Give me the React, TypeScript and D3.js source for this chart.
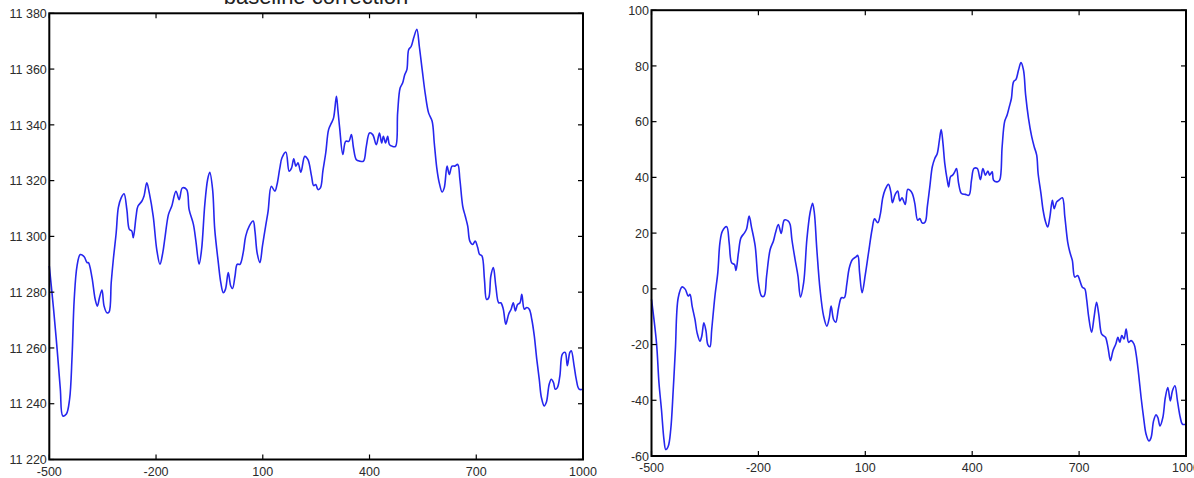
import React from "react";
import * as d3 from "d3";

const title = "baseline correction";
const xDomain: [number, number] = [-500, 1000];
const xTicks = [-500, -200, 100, 400, 700, 1000];
const rawYDomain: [number, number] = [11220, 11380];
const rawYTicks = [11220, 11240, 11260, 11280, 11300, 11320, 11340, 11360, 11380];
const corrYDomain: [number, number] = [-60, 100];
const corrYTicks = [-60, -40, -20, 0, 20, 40, 60, 80, 100];

const rawX = [
  -500, -488, -478, -469, -462, -452, -443, -436, -430, -422, -413, -402, -394, -390, -380, -371, -365, -359, -352, -346,
  -338, -332, -326, -320, -312, -306, -298, -290, -282, -275, -268, -264, -256, -251, -240, -234, -226, -219, -208, -198,
  -189, -181, -175, -165, -156, -144, -135, -126, -114, -107, -95, -88, -79, -72, -63, -55, -49, -41, -35, -25,
  -18, -11, -5, 3, 10, 15, 22, 28, 36, 45, 52, 62, 73, 78, 84, 92, 99, 108, 115, 124,
  134, 140, 148, 154, 165, 174, 181, 187, 193, 199, 207, 218, 227, 237, 243, 249, 255, 262, 269, 277,
  285, 293, 299, 307, 311, 316, 325, 333, 342, 349, 355, 363, 372, 383, 391, 400, 409, 419, 428, 434,
  439, 445, 451, 456, 464, 473, 479, 486, 493, 499, 505, 510, 517, 524, 533, 540, 548, 557, 566, 576,
  582, 589, 596, 604, 610, 618, 624, 632, 640, 648, 654, 662, 669, 676, 682, 690, 697, 704, 709, 716,
  723, 729, 735, 741, 748, 755, 763, 769, 776, 783, 791, 798, 804, 810, 816, 823, 828, 835, 842, 849,
  856, 863, 870, 877, 883, 891, 897, 905, 911, 917, 922, 928, 935, 942, 950, 956, 963, 967, 975, 981,
  989, 1000,
];
const rawY = [
  11289.4, 11273.9, 11259.5, 11245.2, 11235.6, 11236.3, 11241.6, 11257, 11277.4, 11289.4, 11293.5, 11292.7, 11290.6, 11290.6, 11285.2, 11277.4, 11275, 11278, 11280.8, 11275,
  11272.6, 11272.9, 11283.4, 11291.8, 11301.3, 11310.3, 11313.8, 11315.3, 11309.6, 11302.5, 11301.9, 11299.5, 11307.3, 11310.8, 11312.6, 11314.4, 11319.2, 11315.6, 11307.3, 11295.3,
  11290, 11294.2, 11299.5, 11307.9, 11310.8, 11316.2, 11313.2, 11317.4, 11316.8, 11309.6, 11304.3, 11298.3, 11290, 11295.3, 11311.4, 11320.4, 11323, 11316.8, 11302.5, 11290.6,
  11283.4, 11279.8, 11281, 11287, 11282.2, 11281.3, 11285.8, 11290, 11290, 11294.2, 11300.1, 11303.7, 11305.5, 11301.9, 11294.2, 11290.6, 11296.5, 11303.7, 11309.1, 11318,
  11316.2, 11318.6, 11324.6, 11328.2, 11330.2, 11323.4, 11324.6, 11327.8, 11325.2, 11326.4, 11323, 11328.7, 11327.5, 11321.6, 11318.2, 11318.6, 11316.8, 11317.4, 11323.5, 11330,
  11338.3, 11340.7, 11342.5, 11350.2, 11345.5, 11339, 11329.4, 11334.1, 11334.1, 11336.5, 11331.7, 11327.5, 11327, 11327, 11332.3, 11337.1, 11336.5, 11332.9, 11337.1, 11333.5,
  11335.9, 11333.5, 11335.9, 11332.9, 11332.3, 11332.3, 11344.3, 11353.2, 11355, 11358, 11359.8, 11366.9, 11368.1, 11371.1, 11374.3, 11368.1, 11359.8, 11350.8, 11344.3, 11341.3,
  11333.5, 11324.6, 11319.2, 11315.9, 11317.4, 11325.2, 11322.2, 11325.2, 11325.2, 11325.8, 11320.4, 11310.8, 11307.3, 11303.7, 11298.3, 11297.1, 11298.3, 11296, 11293.6, 11293,
  11284.6, 11277.4, 11278, 11285.8, 11288.8, 11282.2, 11276.2, 11276.2, 11273.9, 11268.5, 11272.1, 11273.9, 11276.2, 11273.3, 11275.6, 11276.2, 11279.2, 11273.9, 11274.5, 11273.9,
  11270.3, 11264.4, 11256, 11248.8, 11242.3, 11239.2, 11240.5, 11247, 11248.8, 11247.6, 11245.2, 11245.8, 11250, 11257.8, 11258.4, 11253.6, 11258.4, 11259, 11253.6, 11248.8,
  11245.2, 11245.2,
];

const corrX = [
  -500, -486, -479, -472, -465, -460, -453, -446, -439, -433, -425, -414, -405, -397, -392, -386, -378, -372, -364, -359,
  -353, -347, -342, -336, -331, -322, -314, -308, -301, -289, -282, -275, -267, -263, -256, -249, -239, -233, -226, -219,
  -209, -200, -191, -184, -177, -167, -158, -152, -144, -136, -127, -116, -111, -106, -97, -89, -82, -73, -64, -55,
  -48, -43, -36, -27, -17, -8, -1, 4, 11, 17, 25, 33, 41, 48, 55, 64, 74, 79, 84, 91,
  100, 109, 119, 126, 135, 142, 149, 156, 165, 172, 176, 184, 191, 197, 203, 212, 219, 225, 232, 239,
  247, 253, 260, 268, 274, 281, 288, 295, 302, 308, 313, 318, 323, 330, 334, 339, 345, 351, 356, 362,
  370, 381, 391, 398, 405, 414, 423, 430, 437, 444, 449, 456, 460, 470, 477, 484, 491, 498, 504, 510,
  516, 523, 530, 537, 544, 550, 558, 567, 574, 581, 585, 593, 599, 606, 612, 618, 625, 630, 637, 643,
  653, 660, 668, 674, 681, 688, 696, 702, 709, 716, 721, 727, 735, 742, 749, 755, 763, 768, 774, 781,
  788, 795, 803, 809, 814, 820, 826, 832, 839, 846, 854, 860, 867, 874, 881, 888, 896, 902, 909, 916,
  921, 927, 935, 942, 949, 956, 962, 969, 976, 984, 990, 1000,
];
const corrY = [
  -3.8, -19.4, -33.8, -43.4, -54.1, -57.7, -56.5, -50.5, -36.2, -21.8, -3.2, 0.7, -0.2, -2.6, -2, -6.2, -11, -15.8, -18.8, -17,
  -12.2, -15.2, -20, -20.8, -14.6, -2.6, 5.7, 16.5, 20.7, 22.3, 16.5, 9.3, 8.7, 6.6, 12.9, 18.3, 20.1, 21.6, 26.1, 21.9,
  15.3, 2.2, -2.6, -2.6, 4.6, 14.1, 17.1, 20.1, 23.1, 19.9, 24.7, 24.3, 23.1, 17.7, 10.5, 4.6, -3, 2.2, 17.7, 27.3,
  30.7, 27.3, 14.1, -0.2, -9.8, -13.4, -10.4, -6.2, -11, -12, -6.8, -3.2, -3.2, 1.6, 7.5, 10.5, 11.5, 12, 5.7, -1.4,
  5.1, 12.9, 21.3, 25.1, 23.7, 26.7, 32.7, 35.7, 37.5, 34.5, 30.9, 33.9, 35.1, 31.5, 32.7, 30.3, 35.7, 35.4, 34.2, 30.6,
  24.6, 25.2, 23.6, 24, 29.4, 36.6, 43.8, 46.8, 48.6, 53.4, 57.2, 52.2, 45, 39, 36.6, 40.2, 40.8, 42, 43.2, 37.8,
  34.2, 33.9, 33.6, 39, 43.2, 43.2, 39.2, 43.2, 40.8, 42.3, 40.8, 42, 39, 38.4, 39, 51, 60, 62.4, 65.3, 68.3,
  74.3, 75.2, 78.5, 81.2, 78.5, 69.5, 61.2, 54.6, 51, 48, 41.4, 34.2, 28.2, 24, 22.2, 25.8, 31.8, 28.8, 31.2, 31.8,
  32.7, 25.8, 16.8, 13.2, 10.2, 4.2, 4.8, 3, 0.6, 0, -3.6, -10.2, -15.6, -10.2, -4.8, -9, -16.2, -16.8, -17.4, -21,
  -25.8, -22.2, -19.8, -17.4, -19.2, -16.8, -18, -14.4, -19.2, -18.6, -19.8, -23.4, -30.6, -39, -46.2, -52.2, -54.6, -53.4, -47.4, -45.2,
  -46.2, -49.2, -46.2, -39, -35.4, -40.2, -36.6, -34.8, -40.2, -46.2, -48.6, -48.6,
];

const locale = d3.formatLocale({ decimal: ".", thousands: " ", grouping: [3], currency: ["", ""], minus: "-" });
const fmtThousands = locale.format(",");
const fmtPlain = locale.format("d");

type PanelProps = {
  left: number; right: number; top: number; bottom: number;
  yDomain: [number, number]; yTicks: number[];
  xs: number[]; ys: number[]; fmtY: (v: number) => string;
};

const FONT = "'Liberation Sans', Arial, Helvetica, sans-serif";
const TEXT_COLOR = "#2b2b2b";
const FS = 12.5;

function Panel({ left, right, top, bottom, yDomain, yTicks, xs, ys, fmtY }: PanelProps) {
  const x = d3.scaleLinear().domain(xDomain).range([left, right]);
  const y = d3.scaleLinear().domain(yDomain).range([bottom, top]);
  const line = d3
    .line<number>()
    .x((_, i) => x(xs[i]))
    .y((d) => y(d))
    .curve(d3.curveCatmullRom.alpha(0.5));
  const tl = 5;
  return (
    <g>
      <path d={line(ys) || ""} fill="none" stroke="#2626ee" strokeWidth={1.6} strokeLinejoin="round" />
      <rect x={left} y={top} width={right - left} height={bottom - top} fill="none" stroke="#000" strokeWidth={2} />
      {xTicks.map((t) => (
        <g key={"x" + t}>
          <line x1={x(t)} x2={x(t)} y1={bottom} y2={bottom - tl} stroke="#000" strokeWidth={1.2} />
          <line x1={x(t)} x2={x(t)} y1={top} y2={top + tl} stroke="#000" strokeWidth={1.2} />
          <text x={x(t)} y={bottom + 16} textAnchor="middle" fontSize={FS} fontFamily={FONT} fill={TEXT_COLOR}>
            {fmtPlain(t)}
          </text>
        </g>
      ))}
      {yTicks.map((t) => (
        <g key={"y" + t}>
          <line x1={left} x2={left + tl} y1={y(t)} y2={y(t)} stroke="#000" strokeWidth={1.2} />
          <line x1={right} x2={right - tl} y1={y(t)} y2={y(t)} stroke="#000" strokeWidth={1.2} />
          <text x={left - 2.5} y={y(t)} dy="0.38em" textAnchor="end" fontSize={FS} fontFamily={FONT} fill={TEXT_COLOR}>
            {fmtY(t)}
          </text>
        </g>
      ))}
    </g>
  );
}

export default function App() {
  return (
    <svg
      width={1194}
      height={478}
      style={{ position: "absolute", left: 0, top: 0, background: "#fff" }}
    >
      <rect x={0} y={0} width={1194} height={478} fill="#fff" />
      <text x={316} y={4} textAnchor="middle" fontSize={22} fontFamily={FONT} fill="#222">
        {title}
      </text>
      <Panel left={49.3} right={583} top={13.3} bottom={459.5} yDomain={rawYDomain} yTicks={rawYTicks}
        xs={rawX} ys={rawY} fmtY={fmtThousands} />
      <Panel left={651.5} right={1186} top={10.2} bottom={456} yDomain={corrYDomain} yTicks={corrYTicks}
        xs={corrX} ys={corrY} fmtY={fmtPlain} />
    </svg>
  );
}
